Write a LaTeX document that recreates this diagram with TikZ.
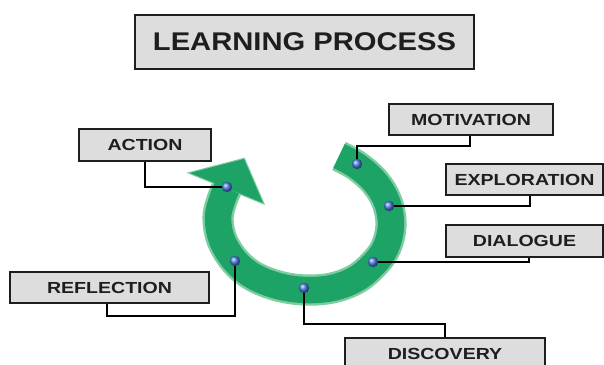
\documentclass[tikz,border=0pt]{standalone}
\usepackage{fontspec}
\newfontfamily\titlefont{Liberation Sans}[FakeStretch=1.14]
\newfontfamily\labelfont{Liberation Sans}[FakeStretch=1.22]
\definecolor{boxgray}{RGB}{221,221,221}
\definecolor{inkgray}{RGB}{30,30,30}
\definecolor{ringgreen}{RGB}{30,163,102}
\definecolor{ringedge}{RGB}{125,205,160}
\definecolor{pinblue}{RGB}{75,125,225}
\begin{document}
\begin{tikzpicture}[x=0.025cm,y=-0.025cm,line cap=butt,
		lbl/.style={draw=inkgray,line width=0.9pt,fill=boxgray,text=inkgray,inner sep=0,minimum height=0.8cm,font=\labelfont\bfseries\fontsize{11.4}{12}\selectfont},
		pin/.style={circle,inner sep=0,minimum size=0.26cm,shading=ball,ball color=pinblue},
		link/.style={draw=black,line width=0.9pt}]
			\useasboundingbox (0,0) rectangle (604,365);
			% title
			\node[draw=inkgray,line width=1.2pt,fill=boxgray,text=inkgray,inner sep=0,minimum width=8.475cm,minimum height=1.35cm,font=\titlefont\bfseries\fontsize{18.2}{20}\selectfont] (title) at (304.5,42) {LEARNING PROCESS};
			% the ring: head first, then band, then head fill again
			\filldraw[fill=ringgreen,draw=ringedge,line width=1.6pt,line join=miter] (190,173) -- (244,159) -- (263,203) -- cycle;
			\draw[ringgreen,line width=0.66cm,preaction={draw=ringedge,line width=0.78cm}] plot[smooth,tension=0.6] coordinates {(339,156) (357,166) (375,182) (387,202) (391,225) (386,247) (374,264) (356,279) (332,288) (305,290) (278,286) (253,276) (235,261) (222,240) (218,218) (222,200) (227,188)};
			\fill[ringgreen] (190,173) -- (244,159) -- (263,203) -- cycle;
			% labels
			\node[lbl,minimum width=3.3cm] (action) at (145,145) {ACTION};
			\node[lbl,minimum width=4.975cm,minimum height=0.775cm] (reflection) at (109.5,287.5) {REFLECTION};
			\node[lbl,minimum width=4.1cm,minimum height=0.775cm] (motivation) at (471,119.5) {MOTIVATION};
			\node[lbl,minimum width=3.925cm,minimum height=0.775cm] (exploration) at (524.5,179.5) {EXPLORATION};
			\node[lbl,minimum width=3.925cm] (dialogue) at (524.5,241) {DIALOGUE};
			\node[lbl,minimum width=5cm] (discovery) at (445,354) {DISCOVERY};
			% dots on the ring
			\node[pin] (dA) at (227,187) {};
			\node[pin] (dM) at (357,164) {};
			\node[pin] (dE) at (389,206) {};
			\node[pin] (dD) at (373,262) {};
			\node[pin] (dV) at (304,288) {};
			\node[pin] (dR) at (235,261) {};
			% connectors
			\draw[link] (action.south) |- (dA);
			\draw[link] (reflection.south -| 107,0) -- (107,316) -| (dR);
			\draw[link] (motivation.south -| 470,0) -- (470,146) -| (dM);
			\draw[link] (exploration.south -| 530,0) |- (dE);
			\draw[link] (dialogue.south -| 529,0) |- (dD);
			\draw[link] (discovery.north) -- (discovery.north |- 0,324) -| (dV);
		\end{tikzpicture}
\end{document}
